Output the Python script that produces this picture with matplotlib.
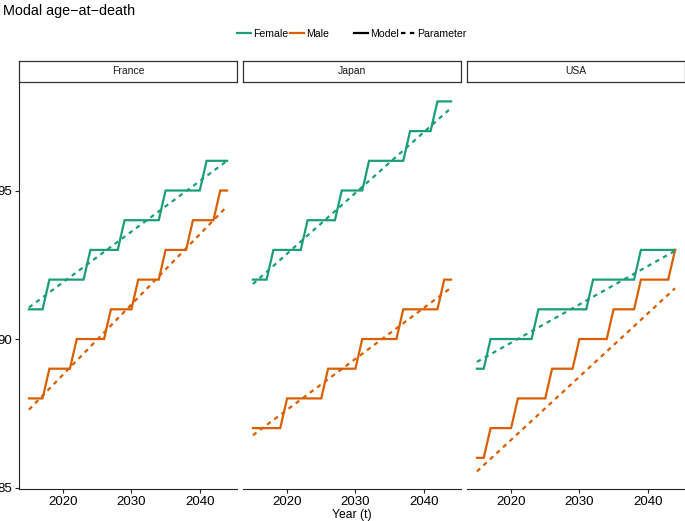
import matplotlib
matplotlib.use("Agg")
import matplotlib.pyplot as plt
from matplotlib.lines import Line2D

plt.rcParams['font.family'] = ['Liberation Sans', 'DejaVu Sans']

# yearly model values (rounded modal age)
years = list(range(2015, 2045))
countries = ['France', 'Japan', 'USA']

france_female = [91, 91, 91, 92, 92, 92, 92, 92, 92, 93, 93, 93, 93, 93, 94,
                 94, 94, 94, 94, 94, 95, 95, 95, 95, 95, 95, 96, 96, 96, 96]
france_male = [88, 88, 88, 89, 89, 89, 89, 90, 90, 90, 90, 90, 91, 91, 91,
               91, 92, 92, 92, 92, 93, 93, 93, 93, 94, 94, 94, 94, 95, 95]
japan_female = [92, 92, 92, 93, 93, 93, 93, 93, 94, 94, 94, 94, 94, 95, 95,
                95, 95, 96, 96, 96, 96, 96, 96, 97, 97, 97, 97, 98, 98, 98]
japan_male = [87, 87, 87, 87, 87, 88, 88, 88, 88, 88, 88, 89, 89, 89, 89,
              89, 90, 90, 90, 90, 90, 90, 91, 91, 91, 91, 91, 91, 92, 92]
usa_female = [89, 89, 90, 90, 90, 90, 90, 90, 90, 91, 91, 91, 91, 91, 91,
              91, 91, 92, 92, 92, 92, 92, 92, 92, 93, 93, 93, 93, 93, 93]
usa_male = [86, 86, 87, 87, 87, 87, 88, 88, 88, 88, 88, 89, 89, 89, 89,
            90, 90, 90, 90, 90, 91, 91, 91, 91, 92, 92, 92, 92, 92, 93]

# parameter (straight) lines: value at first and last year
param_years = [2015, 2044]
france_female_param = [91.06, 96.0]
france_male_param = [87.62, 94.47]
japan_female_param = [91.85, 97.78]
japan_male_param = [86.76, 91.73]
usa_female_param = [89.23, 92.97]
usa_male_param = [85.54, 91.71]

model = {'France': (france_female, france_male),
         'Japan': (japan_female, japan_male),
         'USA': (usa_female, usa_male)}
param = {'France': (france_female_param, france_male_param),
         'Japan': (japan_female_param, japan_male_param),
         'USA': (usa_female_param, usa_male_param)}

green = '#1B9E77'
orange = '#D95F02'
lw = 1.6
W, H = 685, 521

fig = plt.figure(figsize=(W / 100, H / 100), dpi=100)

panel_left = [19, 243, 467]
panel_w = 218
top_px, bottom_px = 83, 489
strip_h = 21

for i, c in enumerate(countries):
    ax = fig.add_axes([panel_left[i] / W, 1 - bottom_px / H,
                       panel_w / W, (bottom_px - top_px) / H])
    f, m = model[c]
    pf, pm = param[c]
    ax.plot(years, f, color=green, lw=lw, solid_joinstyle='miter')
    ax.plot(years, m, color=orange, lw=lw, solid_joinstyle='miter')
    ax.plot(param_years, pf, color=green, lw=lw, dashes=(2, 2))
    ax.plot(param_years, pm, color=orange, lw=lw, dashes=(2, 2))
    ax.set_xlim(2013.55, 2045.45)
    ax.set_ylim(84.95, 98.62)
    ax.set_xticks([2020, 2030, 2040])
    for s in ['top', 'right']:
        ax.spines[s].set_visible(False)
    ax.spines['bottom'].set_color('#222222')
    ax.spines['left'].set_color('#222222')
    ax.tick_params(axis='x', length=3, width=0.8, color='#222222',
                   labelsize=9.5, pad=2)
    if i == 0:
        ax.set_yticks([85, 90, 95])
        ax.tick_params(axis='y', length=3, width=0.8, color='#222222',
                       labelsize=9.5, pad=2)
    else:
        ax.spines['left'].set_visible(False)
        ax.set_yticks([])
    if i == 1:
        ax.set_xlabel('Year (t)', fontsize=8.7, labelpad=1)

    # facet strip
    sax = fig.add_axes([panel_left[i] / W, 1 - (top_px - 1) / H,
                        panel_w / W, strip_h / H])
    sax.set_xticks([])
    sax.set_yticks([])
    for s in sax.spines.values():
        s.set_color('#333333')
        s.set_linewidth(0.9)
    sax.text(0.5, 0.5, c, ha='center', va='center', fontsize=7.5,
             color='#1a1a1a', transform=sax.transAxes)

fig.text(3 / W, 1 - 11 / H, 'Modal age\u2212at\u2212death', fontsize=10.4,
         ha='left', va='center')

h_sex = [Line2D([], [], color=green, lw=lw), Line2D([], [], color=orange, lw=lw)]
leg1 = fig.legend(h_sex, ['Female', 'Male'], loc='center',
                  bbox_to_anchor=(283 / W, 1 - 34 / H), ncol=2, frameon=False,
                  fontsize=7.6, handlelength=1.35, handletextpad=0.2,
                  columnspacing=0.2, borderpad=0)
h_type = [Line2D([], [], color='black', lw=lw),
          Line2D([], [], color='black', lw=lw, dashes=(2, 2))]
leg2 = fig.legend(h_type, ['Model', 'Parameter'], loc='center',
                  bbox_to_anchor=(410 / W, 1 - 34 / H), ncol=2, frameon=False,
                  fontsize=7.6, handlelength=1.35, handletextpad=0.2,
                  columnspacing=0.2, borderpad=0)

fig.savefig('out.png', dpi=100)
